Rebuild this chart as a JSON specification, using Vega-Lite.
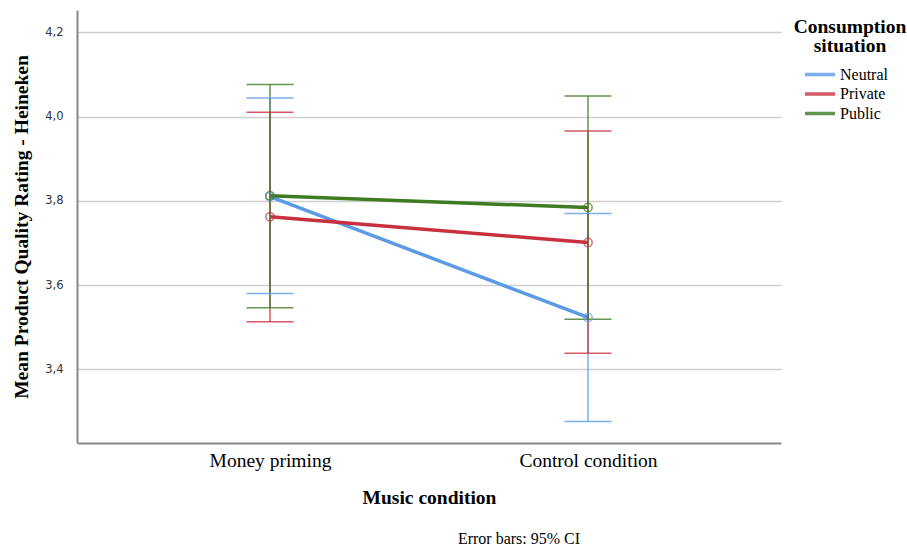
{
  "$schema": "https://vega.github.io/schema/vega-lite/v6.json",
  "width": 704,
  "height": 433,
  "autosize": {"type": "none"},
  "padding": {"left": 77, "top": 10, "right": 126, "bottom": 105},
  "background": "white",
  "config": {"view": {"stroke": null}},
  "title": {"text": "Error bars: 95% CI", "orient": "bottom", "anchor": "middle", "font": "Liberation Serif", "fontSize": 16, "fontWeight": "normal", "color": "#000", "dx": 90, "offset": 24},
  "data": {"values": [
    {"music": "Money priming", "situation": "Neutral", "mean": 3.810, "lo": 3.580, "hi": 4.044},
    {"music": "Money priming", "situation": "Private", "mean": 3.762, "lo": 3.513, "hi": 4.010},
    {"music": "Money priming", "situation": "Public", "mean": 3.812, "lo": 3.546, "hi": 4.076},
    {"music": "Control condition", "situation": "Neutral", "mean": 3.523, "lo": 3.276, "hi": 3.770},
    {"music": "Control condition", "situation": "Private", "mean": 3.701, "lo": 3.438, "hi": 3.966},
    {"music": "Control condition", "situation": "Public", "mean": 3.784, "lo": 3.519, "hi": 4.049}
  ]},
  "encoding": {
    "x": {"field": "music", "type": "nominal", "sort": ["Money priming", "Control condition"],
      "scale": {"type": "point", "padding": 0.607},
      "axis": {"title": "Music condition", "domainColor": "#888", "domainWidth": 2, "ticks": false, "grid": false,
        "labelFont": "Liberation Serif", "labelFontSize": 19.5, "labelColor": "#000", "labelPadding": 8, "labelAngle": 0,
        "titleFont": "Liberation Serif", "titleFontSize": 19.5, "titleFontWeight": "bold", "titleColor": "#000", "titlePadding": 19}},
    "color": {"field": "situation", "type": "nominal",
      "scale": {"domain": ["Neutral", "Private", "Public"], "range": ["#5b9be6", "#c9303e", "#3e7b22"]},
      "legend": {"orient": "none", "legendX": 717, "legendY": 8, "title": ["Consumption", "situation"],
        "titleFont": "Liberation Serif", "titleFontSize": 19.5, "titleFontWeight": "bold", "titleColor": "#000",
        "titleAnchor": "middle", "titleAlign": "center", "titleLineHeight": 19, "titlePadding": 10,
        "labelFont": "Liberation Serif", "labelFontSize": 16, "labelColor": "#000",
        "symbolType": "M-2.5,0H2.5", "symbolSize": 144, "symbolStrokeWidth": 3.5, "labelOffset": 12, "rowPadding": 3.5}}
  },
  "layer": [
    {"mark": {"type": "line", "strokeWidth": 3.5},
     "encoding": {"y": {"field": "mean", "type": "quantitative", "title": "Mean Product Quality Rating - Heineken",
       "scale": {"domain": [3.225, 4.253], "nice": false, "zero": false},
       "axis": {"values": [3.4, 3.6, 3.8, 4.0, 4.2], "labelExpr": "replace(format(datum.value, '.1f'), '.', ',')",
         "labelFont": "DejaVu Sans", "labelFontSize": 11.5, "labelColor": "#333", "ticks": false, "labelPadding": 14,
         "grid": true, "gridColor": "#cfcfcf", "gridWidth": 1.5, "domainColor": "#888", "domainWidth": 2,
         "titleFont": "Liberation Serif", "titleFontSize": 19.5, "titleFontWeight": "bold", "titleColor": "#000", "titlePadding": 13}}}},
    {"mark": {"type": "rule", "strokeWidth": 1.5, "opacity": 0.8},
     "encoding": {"y": {"field": "lo", "type": "quantitative", "title": "Mean Product Quality Rating - Heineken"}, "y2": {"field": "hi"}}},
    {"mark": {"type": "tick", "size": 47, "thickness": 1.5, "opacity": 0.8},
     "encoding": {"y": {"field": "lo", "type": "quantitative", "title": "Mean Product Quality Rating - Heineken"}}},
    {"mark": {"type": "tick", "size": 47, "thickness": 1.5, "opacity": 0.8},
     "encoding": {"y": {"field": "hi", "type": "quantitative", "title": "Mean Product Quality Rating - Heineken"}}},
    {"mark": {"type": "point", "filled": false, "size": 70, "strokeWidth": 1.5},
     "encoding": {"y": {"field": "mean", "type": "quantitative", "title": "Mean Product Quality Rating - Heineken"}}}
  ]
}
